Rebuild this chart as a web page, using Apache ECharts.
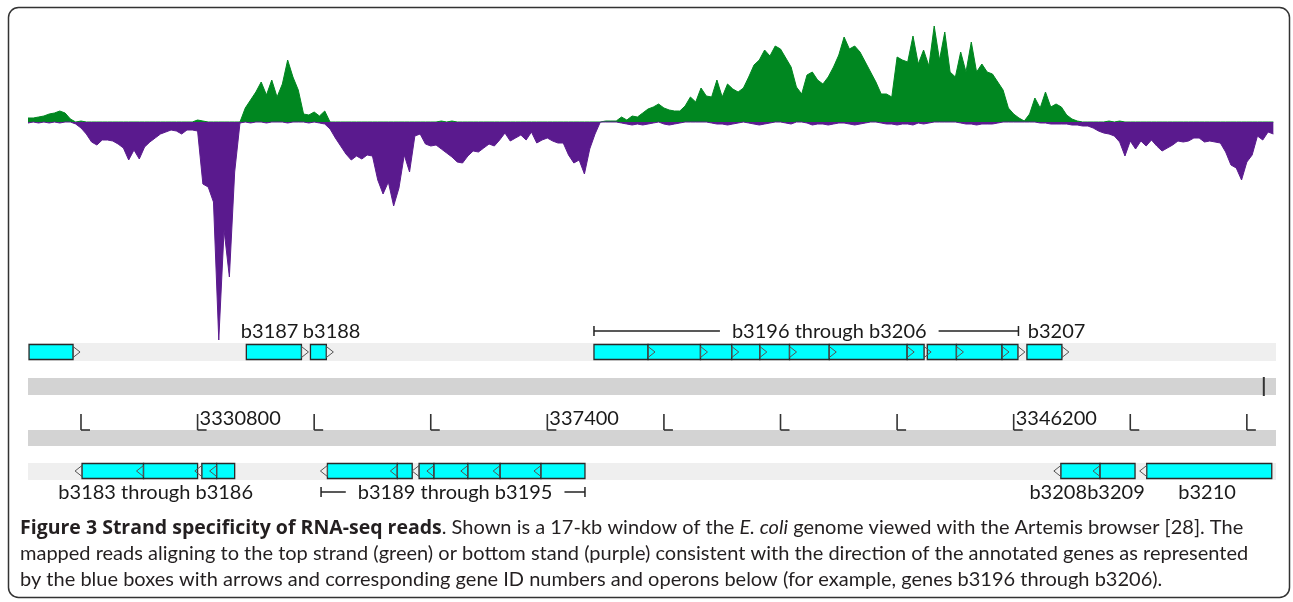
<!DOCTYPE html>
<html>
<head>
<meta charset="utf-8">
<title>Strand specificity of RNA-seq reads</title>
<script src="https://cdn.jsdelivr.net/npm/echarts@6/dist/echarts.min.js"></script>
<style>
  html, body { margin: 0; padding: 0; background: #fff; }
  #chart { width: 1293px; height: 602px; }
</style>
</head>
<body>
<div id="chart"></div>
<script>
// read coverage, 100 bp bins from binStart
const binStart = 3327600;
const binSize = 100;
// top strand (green)
const plusCov = [
  4, 4, 5, 6, 8, 9, 11, 9, 3, 0,
  1, 0, 0, 0, 0, 0, 0, 0, 0, 0,
  0, 0, 0, 0, 0, 0, 0, 0, 0, 0,
  0, 0, 2, 1, 0, 0, 0, 0, 0, 0,
  0, 14, 22, 30, 40, 27, 42, 25, 38, 62,
  45, 32, 8, 7, 10, 6, 11, 0, 0, 0,
  0, 0, 0, 0, 0, 0, 0, 0, 0, 0,
  0, 0, 0, 0, 0, 0, 0, 0, 1, 0,
  1, 0, 0, 0, 0, 0, 0, 0, 0, 0,
  0, 0, 0, 0, 0, 0, 0, 0, 0, 0,
  0, 0, 0, 0, 0, 0, 0, 0, 0, 1,
  1, 1, 5, 2, 6, 5, 9, 13, 15, 18,
  14, 12, 11, 11, 16, 25, 20, 34, 26, 25,
  42, 25, 38, 33, 30, 34, 45, 57, 62, 72,
  66, 76, 73, 64, 55, 35, 28, 47, 50, 42,
  38, 45, 55, 67, 85, 73, 76, 70, 60, 50,
  40, 28, 28, 25, 65, 62, 60, 86, 58, 72,
  56, 96, 62, 90, 50, 45, 70, 50, 80, 50,
  58, 50, 48, 40, 32, 14, 8, 4, 1, 8,
  24, 14, 30, 15, 18, 15, 7, 3, 1, 0,
  0, 0, 0, 0, 1, 0, 1, 0, 0, 0,
  0, 0, 0, 0, 0, 0, 0, 0, 0, 0,
  0, 0, 0, 0, 0, 0, 0, 0, 0, 0,
  0, 0, 0, 0, 0, 0
];
// bottom strand (purple), drawn downwards
const minusCov = [
  1, 0, 1, 0, 1, 0, 1, 0, 0, 2,
  6, 12, 20, 23, 18, 18, 19, 22, 26, 38,
  28, 37, 25, 20, 16, 12, 10, 8, 9, 12,
  8, 8, 9, 62, 65, 80, 218, 108, 155, 50,
  1, 0, 1, 0, 0, 1, 0, 0, 0, 1,
  0, 0, 0, 1, 0, 1, 2, 7, 16, 24,
  32, 38, 34, 37, 33, 34, 58, 72, 60, 84,
  66, 33, 50, 14, 12, 22, 24, 23, 27, 31,
  35, 40, 41, 34, 29, 30, 26, 22, 24, 18,
  11, 19, 16, 13, 18, 10, 21, 18, 16, 19,
  21, 21, 33, 41, 38, 52, 27, 12, 0, 0,
  0, 0, 1, 2, 3, 2, 3, 2, 1, 0,
  2, 3, 2, 1, 0, 0, 0, 0, 0, 1,
  2, 2, 3, 2, 1, 0, 1, 2, 3, 2,
  1, 0, 0, 1, 2, 0, 0, 1, 3, 2,
  2, 3, 2, 1, 1, 2, 3, 2, 1, 0,
  0, 1, 2, 2, 3, 2, 2, 3, 1, 2,
  1, 0, 0, 0, 0, 0, 1, 2, 2, 3,
  2, 2, 2, 1, 0, 0, 0, 0, 0, 0,
  0, 1, 1, 2, 2, 2, 2, 3, 3, 4,
  4, 6, 9, 11, 12, 14, 20, 34, 19, 27,
  19, 24, 18, 24, 29, 26, 23, 19, 20, 19,
  16, 16, 20, 19, 20, 21, 30, 43, 46, 58,
  40, 33, 14, 18, 10, 12
];

// annotated genes (bp), strand 1 = forward, -1 = reverse
const geneStart = [
  3327620, 3331720, 3332930,
  3338280, 3339300, 3340290, 3340880, 3341410, 3341970, 3342720, 3344190,
  3344570, 3345120, 3345980, 3346450,
  3328620, 3329780, 3330880, 3331160,
  3333250, 3334570, 3334980, 3335260, 3335900, 3336510, 3337280,
  3347090, 3347830, 3348710
];
const geneEnd = [
  3328450, 3332760, 3333230,
  3339300, 3340290, 3340880, 3341410, 3341970, 3342720, 3344190, 3344510,
  3345120, 3345980, 3346280, 3347110,
  3329780, 3330800, 3331160, 3331500,
  3334570, 3334850, 3335260, 3335900, 3336510, 3337280, 3338110,
  3347830, 3348490, 3351070
];
const geneStrand = [
  1, 1, 1,
  1, 1, 1, 1, 1, 1, 1, 1,
  1, 1, 1, 1,
  -1, -1, -1, -1,
  -1, -1, -1, -1, -1, -1, -1,
  -1, -1, -1
];

// gene / operon names, centre position (bp) and strand row
const labelText = ['b3187', 'b3188', 'b3196 through b3206', 'b3207',
  'b3183 through b3186', 'b3189 through b3195', 'b3208', 'b3209', 'b3210'];
const labelPos = [3332160, 3333330, 3342720, 3347010,
  3330010, 3335660, 3347040, 3348130, 3349850];
const labelStrand = [1, 1, 1, 1, -1, -1, -1, -1, -1];

// operon brackets: extent and which label sits inside
const operonStart = [3338280, 3333130];
const operonEnd = [3346290, 3338110];
const operonLabel = [2, 5];

// ruler
const rulerTicks = [3328600, 3330800, 3333000, 3335200, 3337400, 3339600,
  3341800, 3344000, 3346200, 3348400, 3350600];
const rulerLabels = ['', '3330800', '', '', '337400', '', '', '', '3346200', '', ''];
const cursorPos = [3350920];

const GREEN = '#008720';
const PURPLE = '#5a1a8e';
const CYAN = '#00ffff';
const LABEL_FONT = '20px Lato';
const CAPTION_SIZE = 20;

// pixel rows of the feature tracks
const rows = {
  fwdTop: 344.5, revTop: 463.5, boxH: 15,
  fwdLabel: 332, revLabel: 493,
  rulerTop: 414, rulerBase: 430
};

const measureCtx = document.createElement('canvas').getContext('2d');
function textWidth(str) {
  measureCtx.font = LABEL_FONT;
  return measureCtx.measureText(str).width;
}

const chartInstance = echarts.init(document.getElementById('chart'));

const plusData = plusCov.map((v, i) => [binStart + i * binSize, v]);
const minusData = minusCov.map((v, i) => [binStart + i * binSize, -v]);
const genes = geneStart.map((s, i) => [s, geneEnd[i], geneStrand[i]]);
const labels = labelPos.map((p, i) => [p, labelStrand[i]]);
const operons = operonStart.map((s, i) => [s, operonEnd[i], operonLabel[i]]);
const ticks = rulerTicks.map((t) => [t, 0]);

function renderGene(params, api) {
  const x1 = api.coord([api.value(0), 0])[0];
  const x2 = api.coord([api.value(1), 0])[0];
  const fwd = api.value(2) > 0;
  const top = fwd ? rows.fwdTop : rows.revTop;
  const mid = top + rows.boxH / 2;
  const head = fwd
    ? [[x2, top + 2], [x2 + 7, mid], [x2, top + rows.boxH - 2]]
    : [[x1, top + 2], [x1 - 7, mid], [x1, top + rows.boxH - 2]];
  return {
    type: 'group',
    children: [
      {
        type: 'rect',
        shape: { x: x1, y: top, width: x2 - x1, height: rows.boxH },
        style: { fill: CYAN, stroke: '#2a2a2a', lineWidth: 1.3 }
      },
      {
        type: 'polygon',
        z2: 5,
        shape: { points: head },
        style: { fill: 'none', stroke: '#555', lineWidth: 1 }
      }
    ]
  };
}

function renderLabel(params, api) {
  const x = api.coord([api.value(0), 0])[0];
  const fwd = api.value(1) > 0;
  return {
    type: 'text',
    style: {
      text: labelText[params.dataIndex],
      x: x,
      y: fwd ? rows.fwdLabel : rows.revLabel,
      align: 'center',
      verticalAlign: 'middle',
      font: LABEL_FONT,
      fill: '#1a1a1a'
    }
  };
}

function renderOperon(params, api) {
  const x1 = api.coord([api.value(0), 0])[0];
  const x2 = api.coord([api.value(1), 0])[0];
  const li = api.value(2);
  const cx = api.coord([labelPos[li], 0])[0];
  const half = textWidth(labelText[li]) / 2 + 12;
  const y = (labelStrand[li] > 0 ? rows.fwdLabel : rows.revLabel) - 1;
  const st = { stroke: '#222', lineWidth: 1.5 };
  return {
    type: 'group',
    children: [
      { type: 'line', shape: { x1: x1, y1: y, x2: cx - half, y2: y }, style: st },
      { type: 'line', shape: { x1: cx + half, y1: y, x2: x2, y2: y }, style: st },
      { type: 'line', shape: { x1: x1, y1: y - 5, x2: x1, y2: y + 5 }, style: st },
      { type: 'line', shape: { x1: x2, y1: y - 5, x2: x2, y2: y + 5 }, style: st }
    ]
  };
}

function renderTick(params, api) {
  const x = api.coord([api.value(0), 0])[0];
  const st = { stroke: '#333', lineWidth: 1.6 };
  return {
    type: 'group',
    children: [
      { type: 'line', shape: { x1: x, y1: rows.rulerTop, x2: x, y2: rows.rulerBase }, style: st },
      { type: 'line', shape: { x1: x, y1: rows.rulerBase, x2: x + 9, y2: rows.rulerBase }, style: st },
      {
        type: 'text',
        style: {
          text: rulerLabels[params.dataIndex],
          x: x + 2, y: rows.rulerBase - 1,
          align: 'left', verticalAlign: 'bottom',
          font: LABEL_FONT, fill: '#1a1a1a'
        }
      }
    ]
  };
}

function renderCursor(params, api) {
  const x = api.coord([api.value(0), 0])[0];
  return {
    type: 'line',
    shape: { x1: x, y1: 377, x2: x, y2: 396 },
    style: { stroke: '#333', lineWidth: 2 }
  };
}

const xMin = binStart;
const xMax = 3351150;

const captionStyle = { fontSize: CAPTION_SIZE, fontFamily: 'Lato', fill: '#231f20' };

const option = {
  animation: false,
  grid: [
    { left: 28, right: 17, top: 22, height: 320 },
    { left: 28, right: 17, top: 300, height: 220 }
  ],
  xAxis: [
    { type: 'value', gridIndex: 0, min: xMin, max: xMax, show: false },
    { type: 'value', gridIndex: 1, min: xMin, max: xMax, show: false }
  ],
  yAxis: [
    { type: 'value', gridIndex: 0, min: -220, max: 100, show: false },
    { type: 'value', gridIndex: 1, min: -1, max: 1, show: false }
  ],
  graphic: [
    // frame
    { type: 'rect', shape: { x: 8.5, y: 7.5, width: 1281, height: 590, r: 10 },
      style: { fill: 'none', stroke: '#333', lineWidth: 1.5 }, z: 10 },
    // track backgrounds
    { type: 'rect', shape: { x: 28, y: 343, width: 1248, height: 18 }, style: { fill: '#efefef' }, z: 0 },
    { type: 'rect', shape: { x: 28, y: 378, width: 1248, height: 17 }, style: { fill: '#d3d3d3' }, z: 0 },
    { type: 'rect', shape: { x: 28, y: 430, width: 1248, height: 16 }, style: { fill: '#d3d3d3' }, z: 0 },
    { type: 'rect', shape: { x: 28, y: 463, width: 1248, height: 17 }, style: { fill: '#efefef' }, z: 0 },
    // caption
    {
      type: 'text', x: 20, y: 528, z: 10,
      style: Object.assign({
        text: '{b|Figure 3 Strand specificity of RNA-seq reads}. Shown is a 17-kb window of the {i|E. coli} genome viewed with the Artemis browser [28]. The',
        verticalAlign: 'middle',
        rich: {
          b: Object.assign({}, captionStyle, { fontWeight: 'bold', fontFamily: 'Open Sans', fontSize: 19.5 }),
          i: Object.assign({ fontStyle: 'italic' }, captionStyle)
        }
      }, captionStyle)
    },
    {
      type: 'text', x: 20, y: 554, z: 10,
      style: Object.assign({
        text: 'mapped reads aligning to the top strand (green) or bottom stand (purple) consistent with the direction of the annotated genes as represented',
        verticalAlign: 'middle'
      }, captionStyle)
    },
    {
      type: 'text', x: 20, y: 580, z: 10,
      style: Object.assign({
        text: 'by the blue boxes with arrows and corresponding gene ID numbers and operons below (for example, genes b3196 through b3206).',
        verticalAlign: 'middle'
      }, captionStyle)
    }
  ],
  series: [
    {
      name: 'top strand',
      type: 'line',
      xAxisIndex: 0, yAxisIndex: 0,
      data: plusData,
      showSymbol: false,
      lineStyle: { color: GREEN, width: 1 },
      areaStyle: { color: GREEN, opacity: 1 },
      z: 2
    },
    {
      name: 'bottom strand',
      type: 'line',
      xAxisIndex: 0, yAxisIndex: 0,
      data: minusData,
      showSymbol: false,
      lineStyle: { color: PURPLE, width: 1 },
      areaStyle: { color: PURPLE, opacity: 1 },
      z: 3
    },
    {
      name: 'genes', type: 'custom',
      xAxisIndex: 1, yAxisIndex: 1,
      renderItem: renderGene, data: genes,
      encode: { x: [0, 1] }, z: 4
    },
    {
      name: 'operons', type: 'custom',
      xAxisIndex: 1, yAxisIndex: 1,
      renderItem: renderOperon, data: operons,
      encode: { x: [0, 1] }, z: 4
    },
    {
      name: 'labels', type: 'custom',
      xAxisIndex: 1, yAxisIndex: 1,
      renderItem: renderLabel, data: labels,
      encode: { x: 0 }, z: 5
    },
    {
      name: 'ruler', type: 'custom',
      xAxisIndex: 1, yAxisIndex: 1,
      renderItem: renderTick, data: ticks,
      encode: { x: 0 }, z: 4
    },
    {
      name: 'cursor', type: 'custom',
      xAxisIndex: 1, yAxisIndex: 1,
      renderItem: renderCursor, data: cursorPos.map((p) => [p, 0]),
      encode: { x: 0 }, z: 4
    }
  ]
};

chartInstance.setOption(option);
</script>
</body>
</html>
